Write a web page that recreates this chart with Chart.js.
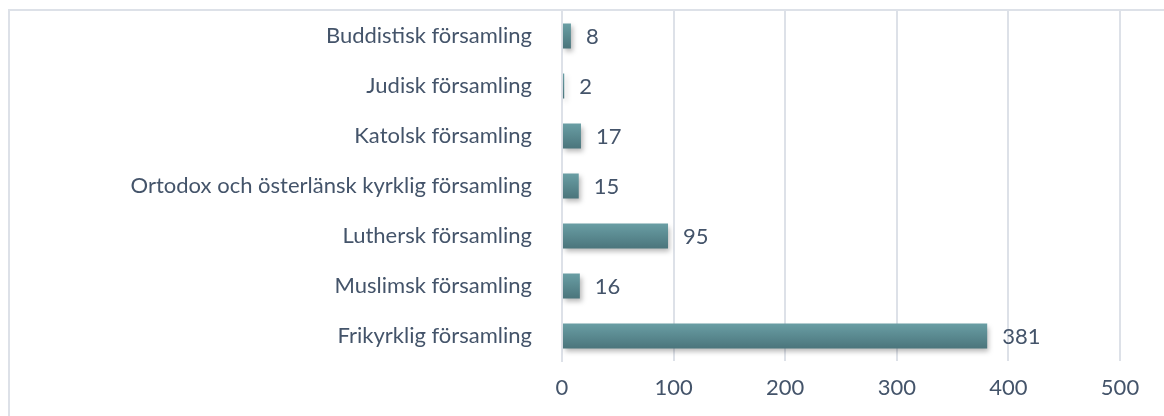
<!DOCTYPE html>
<html>
<head>
<meta charset="utf-8">
<script src="https://cdn.jsdelivr.net/npm/chart.js@4"></script>
<style>
  html, body { margin: 0; padding: 0; background: #fff; overflow: hidden; }
  #frame {
    position: absolute; left: 8px; top: 9px;
    width: 1170px; height: 420px;
    border: 2px solid #dde1e8; box-sizing: border-box;
  }
  #wrap { position: absolute; left: 10px; top: 11px; width: 1154px; height: 405px; }
</style>
</head>
<body>
<div id="frame"></div>
<div id="wrap"><canvas id="chart"></canvas></div>
<script>
const categories = [
    'Buddistisk församling',
    'Judisk församling',
    'Katolsk församling',
    'Ortodox och österlänsk kyrklig församling',
    'Luthersk församling',
    'Muslimsk församling',
    'Frikyrklig församling'
];
const counts = [8, 2, 17, 15, 95, 16, 381];
const xTicks = [0, 100, 200, 300, 400, 500];

const textColor = '#44546a';
const fontFamily = 'Lato, "Open Sans", sans-serif';
const fontSize = 22;

document.addEventListener('DOMContentLoaded', function() {
    const ctx = document.getElementById('chart').getContext('2d');

    // gradient per bar, top lighter, bottom darker
    function barFill(context) {
        const chart = context.chart;
        const yScale = chart.scales.y;
        if (!yScale || !chart.chartArea) return '#5a8a90';
        const y = yScale.getPixelForValue(context.dataIndex);
        const g = chart.ctx.createLinearGradient(0, y - 13, 0, y + 13);
        g.addColorStop(0, '#6a9fa5');
        g.addColorStop(1, '#4a747b');
        return g;
    }

    const shadowPlugin = {
        id: 'barShadow',
        beforeDatasetsDraw(chart) {
            const c = chart.ctx;
            c.save();
            c.shadowColor = 'rgba(0,0,0,0.28)';
            c.shadowBlur = 5;
            c.shadowOffsetX = 2;
            c.shadowOffsetY = 3;
        },
        afterDatasetsDraw(chart) {
            chart.ctx.restore();
        }
    };

    const valueLabels = {
        id: 'valueLabels',
        afterDatasetsDraw(chart) {
            const c = chart.ctx;
            const meta = chart.getDatasetMeta(0);
            c.save();
            c.font = fontSize + 'px ' + fontFamily;
            c.fillStyle = textColor;
            c.textAlign = 'left';
            c.textBaseline = 'middle';
            meta.data.forEach((bar, i) => {
                c.fillText(String(counts[i]), bar.x + 15, bar.y + 1);
            });
            c.restore();
        }
    };

    new Chart(ctx, {
        type: 'bar',
        data: {
            labels: categories,
            datasets: [{
                data: counts,
                backgroundColor: barFill,
                borderWidth: 0,
                categoryPercentage: 1,
                barPercentage: 0.5
            }]
        },
        plugins: [shadowPlugin, valueLabels],
        options: {
            indexAxis: 'y',
            responsive: true,
            maintainAspectRatio: false,
            animation: false,
            layout: { padding: { top: 0, right: 44, bottom: 0, left: 0 } },
            plugins: {
                legend: { display: false },
                tooltip: { enabled: false }
            },
            scales: {
                x: {
                    min: 0,
                    max: 500,
                    afterBuildTicks(scale) {
                        scale.ticks = xTicks.map(v => ({ value: v }));
                    },
                    afterFit(scale) { scale.height = 55; },
                    grid: { color: '#dde1e8', lineWidth: 2, drawTicks: false },
                    border: { display: false },
                    ticks: {
                        color: textColor,
                        padding: 14,
                        font: { family: fontFamily, size: fontSize }
                    }
                },
                y: {
                    afterFit(scale) {
                        scale.width = 552;
                        scale.paddingTop = 0;
                        scale.paddingBottom = 0;
                    },
                    grid: { display: false },
                    border: { display: true, color: '#dde1e8', width: 2 },
                    ticks: {
                        color: textColor,
                        padding: 22,
                        font: { family: fontFamily, size: fontSize }
                    }
                }
            }
        }
    });
});
</script>
</body>
</html>
